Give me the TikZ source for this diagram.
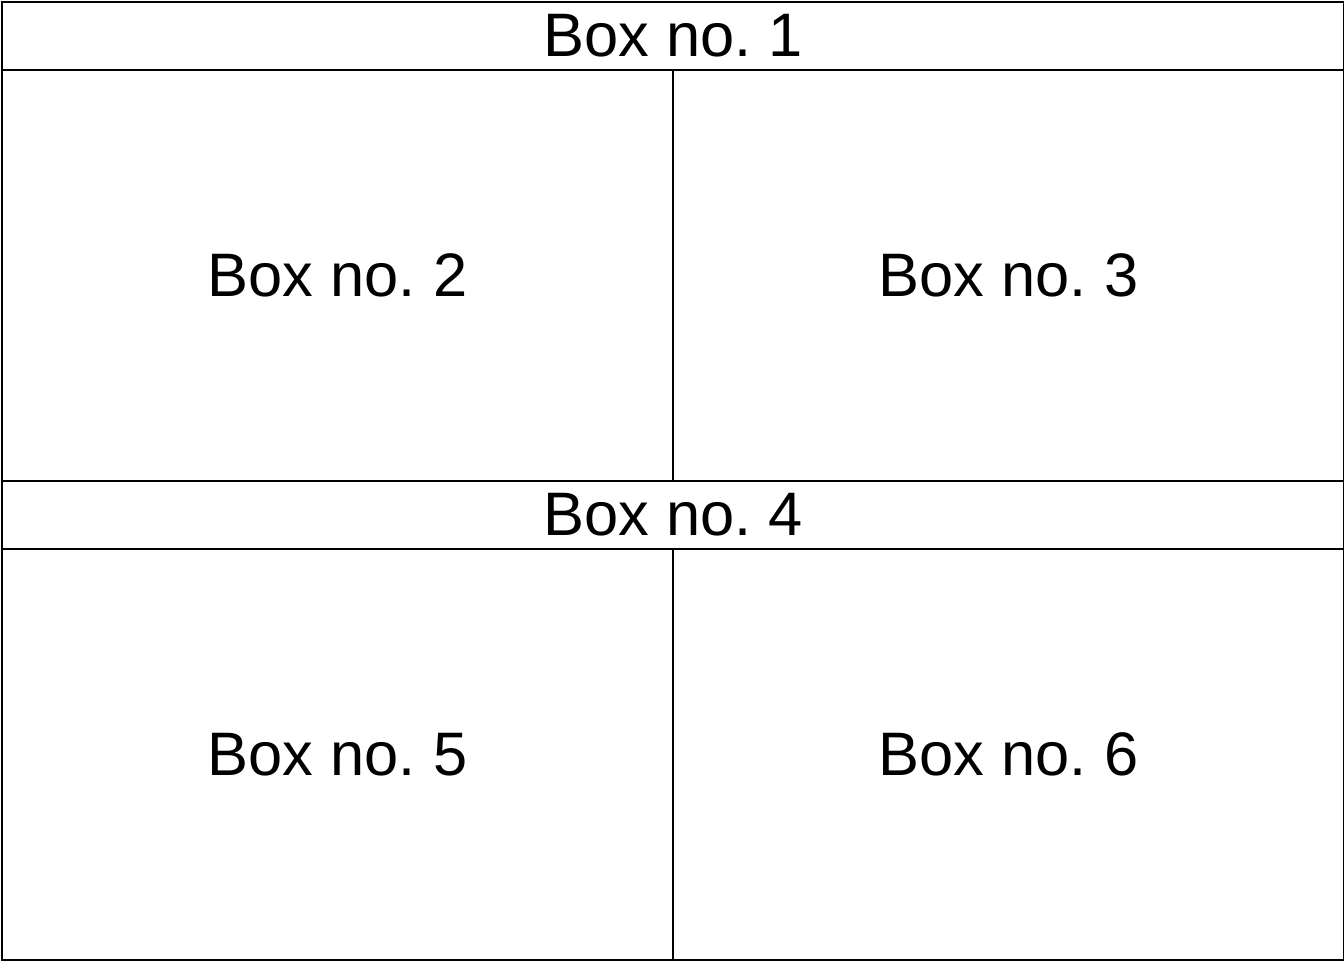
\documentclass[tikz,border=0pt]{standalone}
\usepackage{fontspec}
\setmainfont{Liberation Sans}
\frenchspacing
\begin{document}
\begin{tikzpicture}[x=0.5pt,y=-0.5pt,
		cellbox/.style={draw,line width=1pt,rectangle,inner sep=0pt,anchor=north west,font=\fontsize{30.7}{36}\selectfont},
		headbox/.style={cellbox,minimum width=671pt,minimum height=34pt},
		bodybox/.style={cellbox,minimum width=335.5pt,minimum height=205.5pt}]
		\useasboundingbox (-1,-1) rectangle (1343,959);
		\foreach \y/\a/\b/\c in {0/1/2/3, 479/4/5/6}{
			\node[headbox] (box\a) at (0,\y) {Box no. \a};
			\node[bodybox] (box\b) at (0,\y+68) {Box no. \b};
			\node[bodybox] (box\c) at (671,\y+68) {Box no. \c};
		}
		\end{tikzpicture}
\end{document}
